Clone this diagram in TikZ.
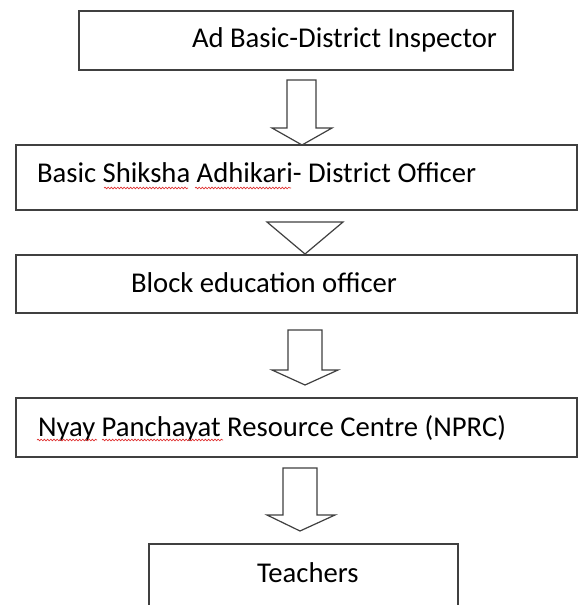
\documentclass[tikz,border=0pt]{standalone}
\usepackage{fontspec}
\setmainfont{Carlito}
\usetikzlibrary{calc,decorations.pathmorphing}
\definecolor{edge}{HTML}{404040}
\definecolor{spell}{HTML}{E03030}
\tikzset{
  boxnode/.style={draw=edge, line width=1.4pt, rectangle, inner sep=0pt, outer sep=0pt},
  labelnode/.style={anchor=west, inner sep=0pt, outer sep=0pt, text=black,
    font=\fontsize{21.5}{26}\selectfont},
  barrow/.style={draw=edge, line width=0.9pt, fill=white, line join=miter},
  squiggle/.style={draw=spell, line width=0.5pt,
    decorate, decoration={snake, amplitude=0.6pt, segment length=2.4pt}}
}
\begin{document}
\begin{tikzpicture}[x=0.75pt, y=-0.75pt]
\useasboundingbox (0,0) rectangle (581,605);
\clip (0,0) rectangle (581,605);
\fill[white] (0,0) rectangle (581,605);

% boxes
\node[boxnode, minimum width=325.5pt, minimum height=44.25pt] (b1) at (296,40.5) {};
\node[boxnode, minimum width=420.75pt, minimum height=48.75pt] (b2) at (296.5,177.5) {};
\node[boxnode, minimum width=420.75pt, minimum height=43.5pt] (b3) at (296.5,284) {};
\node[boxnode, minimum width=420.75pt, minimum height=44.25pt] (b4) at (296.5,427.5) {};
\node[boxnode, minimum width=231.75pt, minimum height=75pt] (b5) at (303.5,594) {};

% labels
\node[labelnode] (l1) at (192,40) {Ad Basic-District Inspector};
\node[labelnode] (l2) at (37,173) {Basic Shiksha Adhikari- District Officer};
\node[labelnode] (l3) at (131,283) {Block education officer};
\node[labelnode] (l4) at (38,428) {Nyay Panchayat Resource Centre (NPRC)};
\node[labelnode] (l5) at (257,573) {Teachers};

% spell-check underlines
\draw[squiggle] (104,188) -- (188,188);
\draw[squiggle] (195,188) -- (291,188);
\draw[squiggle] (37,440) -- (97,440);
\draw[squiggle] (102,440) -- (223,440);

% block arrows
\coordinate (t1) at (302,145);
\draw[barrow] (287,80) -- (316,80) -- (316,128) -- (332,128) -- (t1) -- (272,128) -- (287,128) -- cycle;

\coordinate (t2) at (305,254);
\draw[barrow] (267,222) -- (343,222) -- (t2) -- cycle;

\coordinate (t3) at (305,385);
\draw[barrow] (288,330) -- (322,330) -- (322,370) -- (338,370) -- (t3) -- (272,370) -- (288,370) -- cycle;

\coordinate (t4) at (300,531);
\draw[barrow] (283,468) -- (317,468) -- (317,515) -- (335,515) -- (t4) -- (267,515) -- (283,515) -- cycle;
\end{tikzpicture}
\end{document}
